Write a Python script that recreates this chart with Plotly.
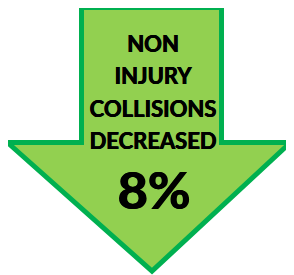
import plotly.graph_objects as go

# Content
label_lines = ["NON", "INJURY", "COLLISIONS", "DECREASED"]
change_pct = [8]

# Styling
FILL = "#92D050"
BORDER = "#00B050"
W, H = 294, 275
PAGE_OFFSET = 8  # default body margin of the written page
HEAVY = "0.5px 0 0 black, -0.3px 0 0 black"

# Arrow outline (in page-pixel axis units)
arrow_x = [81.5, 221.5, 221.5, 290.5, 152, 7.5, 81.5]
arrow_y = [7.5, 7.5, 142.5, 142.5, 271, 142.5, 142.5]

path = "M " + " L ".join(f"{x},{y}" for x, y in zip(arrow_x, arrow_y)) + " Z"

fig = go.Figure()
fig.add_shape(type="path", path=path, xref="x", yref="y",
              fillcolor=FILL, line=dict(color=BORDER, width=5), layer="below")

line_y = [46, 78.5, 111, 143.5]
fig.add_trace(go.Scatter(
    x=[153] * len(label_lines), y=line_y, mode="text",
    text=[f"<b>{t}</b>" for t in label_lines], textposition="middle center",
    textfont=dict(family="Lato", size=22, color="black", shadow=HEAVY),
    hoverinfo="skip"))

fig.add_trace(go.Scatter(
    x=[154], y=[196], mode="text",
    text=[f"<b>{change_pct[0]}%</b>"], textposition="middle center",
    textfont=dict(family="Lato", size=52, color="black",
                  shadow="0.8px 0 0 black, -0.6px 0 0 black"),
    hoverinfo="skip"))

fig.update_layout(width=W, height=H, margin=dict(l=0, r=0, t=0, b=0),
                  paper_bgcolor="white", plot_bgcolor="white", showlegend=False,
                  xaxis=dict(range=[PAGE_OFFSET, W + PAGE_OFFSET], visible=False, fixedrange=True),
                  yaxis=dict(range=[H + PAGE_OFFSET, PAGE_OFFSET], visible=False, fixedrange=True))

fig.write_html("out.html", config={"displayModeBar": False})
